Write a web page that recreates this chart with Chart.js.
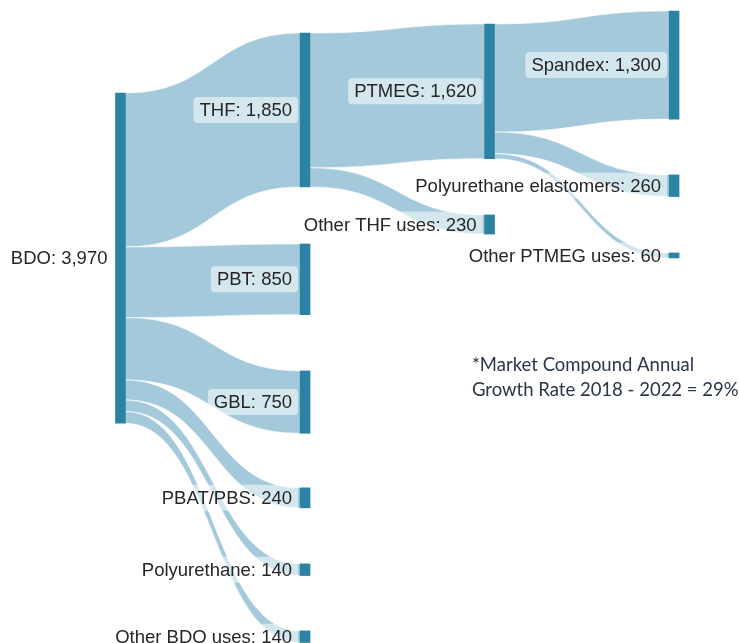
<!DOCTYPE html>
<html>
<head>
<meta charset="utf-8">
<script src="https://cdn.jsdelivr.net/npm/chart.js@4.4.1/dist/chart.umd.min.js"></script>
<style>
  html, body { margin: 0; padding: 0; background: #ffffff; }
  #wrap { width: 739px; height: 643px; position: relative; }
</style>
</head>
<body>
<div id="wrap"><canvas id="c" width="739" height="643"></canvas></div>
<script>
// ---- DATA ----
const nodeNames = ['BDO', 'THF', 'PBT', 'GBL', 'PBAT/PBS', 'Polyurethane', 'Other BDO uses',
                   'PTMEG', 'Other THF uses', 'Spandex', 'Polyurethane elastomers', 'Other PTMEG uses'];
const linkSources = ['BDO', 'BDO', 'BDO', 'BDO', 'BDO', 'BDO', 'THF', 'THF', 'PTMEG', 'PTMEG', 'PTMEG'];
const linkTargets = ['THF', 'PBT', 'GBL', 'PBAT/PBS', 'Polyurethane', 'Other BDO uses',
                     'PTMEG', 'Other THF uses', 'Spandex', 'Polyurethane elastomers', 'Other PTMEG uses'];
const linkValues  = [1850, 850, 750, 240, 140, 140, 1620, 230, 1300, 260, 60];
const noteLines = ['*Market Compound Annual', 'Growth Rate 2018 - 2022 = 29%'];

// ---- LAYOUT (node top offsets, in value units along the vertical scale) ----
const nodeTops = [1118, 397, 2933, 4459, 5865, 6779, 7584, 288, 2584, 132, 2103, 3041];

// ---- derived ----
const idx = {};
nodeNames.forEach((n, i) => idx[n] = i);
const inSum = nodeNames.map(() => 0), outSum = nodeNames.map(() => 0);
linkValues.forEach((v, i) => { outSum[idx[linkSources[i]]] += v; inSum[idx[linkTargets[i]]] += v; });
const nodeValues = nodeNames.map((n, i) => Math.max(inSum[i], outSum[i]));
const depth = nodeNames.map(() => 0);
for (let pass = 0; pass < nodeNames.length; pass++) {
  linkSources.forEach((s, i) => {
    const t = idx[linkTargets[i]];
    depth[t] = Math.max(depth[t], depth[idx[s]] + 1);
  });
}

const NODE_COLOR = '#2c82a2';
const FLOW_COLOR = '#a3c9da';

const flowPlugin = {
  id: 'sankeyFlows',
  beforeDatasetsDraw(chart) {
    const ctx = chart.ctx;
    const meta = chart.getDatasetMeta(0);
    const ys = chart.scales.y;
    const outOff = nodeNames.map(() => 0), inOff = nodeNames.map(() => 0);
    ctx.save();
    linkValues.forEach((v, i) => {
      const s = idx[linkSources[i]], t = idx[linkTargets[i]];
      const se = meta.data[s], te = meta.data[t];
      const x0 = se.x + se.width / 2, x1 = te.x - te.width / 2;
      const y0a = ys.getPixelForValue(nodeTops[s] + outOff[s]);
      const y0b = ys.getPixelForValue(nodeTops[s] + outOff[s] + v);
      const y1a = ys.getPixelForValue(nodeTops[t] + inOff[t]);
      const y1b = ys.getPixelForValue(nodeTops[t] + inOff[t] + v);
      outOff[s] += v; inOff[t] += v;
      const xm = (x0 + x1) / 2;
      ctx.beginPath();
      ctx.moveTo(x0, y0a);
      ctx.bezierCurveTo(xm, y0a, xm, y1a, x1, y1a);
      ctx.lineTo(x1, y1b);
      ctx.bezierCurveTo(xm, y1b, xm, y0b, x0, y0b);
      ctx.closePath();
      ctx.fillStyle = FLOW_COLOR;
      ctx.fill();
      ctx.strokeStyle = 'rgba(255,255,255,0.75)';
      ctx.lineWidth = 0.8;
      ctx.stroke();
    });
    ctx.restore();
  },
  afterDatasetsDraw(chart) {
    const ctx = chart.ctx;
    const meta = chart.getDatasetMeta(0);
    ctx.save();
    ctx.font = '18.5px "Liberation Sans", Arial, sans-serif';
    ctx.textBaseline = 'middle';
    ctx.textAlign = 'right';
    nodeNames.forEach((n, i) => {
      const el = meta.data[i];
      const left = el.x - el.width / 2;
      const cy = (el.y + el.base) / 2;
      const text = n + ': ' + nodeValues[i].toLocaleString('en-US');
      const w = ctx.measureText(text).width;
      const tx = left - 8;
      ctx.fillStyle = 'rgba(255,255,255,0.55)';
      ctx.beginPath();
      ctx.roundRect(tx - w - 6, cy - 13, w + 12, 26, 4);
      ctx.fill();
      ctx.fillStyle = '#262626';
      ctx.fillText(text, tx, cy + 1);
    });
    // note
    ctx.textAlign = 'left';
    ctx.fillStyle = '#2b3747';
    ctx.font = '18.5px Lato, "Open Sans", sans-serif';
    ctx.fillText(noteLines[0], 472, 365);
    ctx.fillText(noteLines[1], 472, 390);
    ctx.restore();
  }
};

new Chart(document.getElementById('c'), {
  type: 'bar',
  data: {
    datasets: [{
      data: nodeNames.map((n, i) => ({ x: depth[i], y: [nodeTops[i], nodeTops[i] + nodeValues[i]] })),
      backgroundColor: NODE_COLOR,
      borderWidth: 0,
      barThickness: 10,
      grouped: false
    }]
  },
  options: {
    responsive: false,
    animation: false,
    layout: { padding: 0 },
    plugins: { legend: { display: false }, tooltip: { enabled: false } },
    scales: {
      x: { type: 'linear', min: -0.653, max: 3.352, offset: false, display: false },
      y: { type: 'linear', min: 0, max: 7730, reverse: true, display: false }
    }
  },
  plugins: [flowPlugin]
});
</script>
</body>
</html>
